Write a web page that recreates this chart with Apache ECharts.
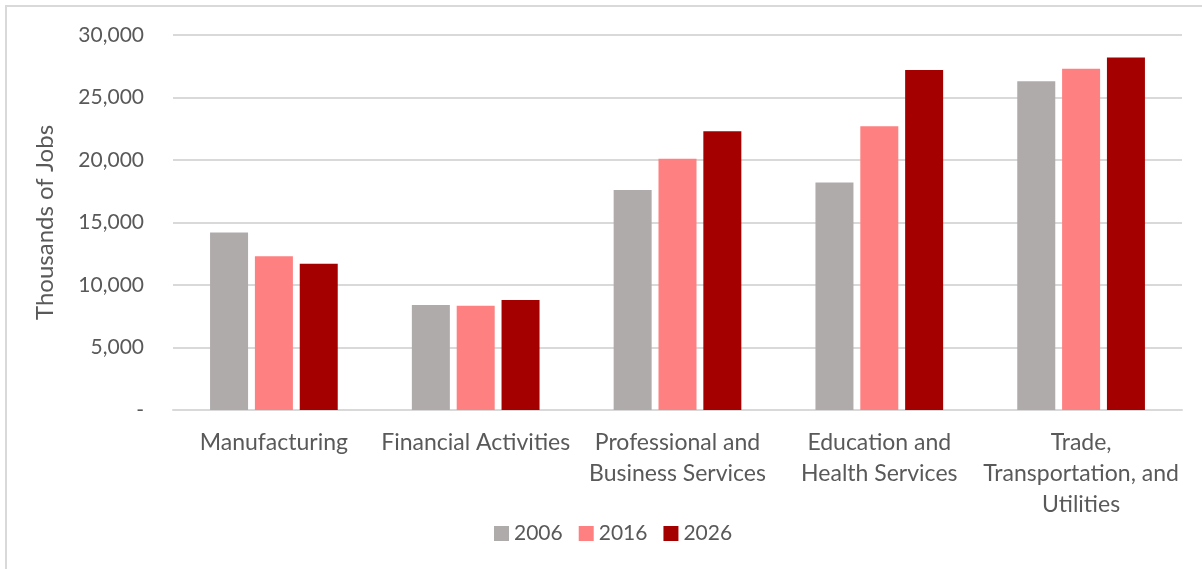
<!DOCTYPE html>
<html>
<head>
<meta charset="utf-8">
<script src="https://cdn.jsdelivr.net/npm/echarts@6/dist/echarts.min.js"></script>
<style>
  html, body { margin: 0; padding: 0; background: #fff; }
  #frame { position: absolute; left: 5px; top: 5px; width: 1197px; height: 564px;
           border-left: 2px solid #d9d9d9; border-top: 2px solid #d9d9d9; box-sizing: border-box; }
  #chart { position: absolute; left: 0; top: 0; width: 1202px; height: 569px; }
</style>
</head>
<body>
<div id="frame"></div>
<div id="chart"></div>
<script>
// categories and values (thousands of jobs)
const categories = [
  'Manufacturing',
  'Financial Activities',
  'Professional and\nBusiness Services',
  'Education and\nHealth Services',
  'Trade,\nTransportation, and\nUtilities'
]
const years = ['2006', '2016', '2026']
const jobs2006 = [14200, 8400, 17600, 18200, 26300]
const jobs2016 = [12300, 8350, 20100, 22700, 27300]
const jobs2026 = [11700, 8800, 22300, 27200, 28200]
const colors = ['#AFABAB', '#FF8080', '#A50000']

const chart = echarts.init(document.getElementById('chart'))
const font = 'Lato, "Open Sans", sans-serif'

chart.setOption({
  animation: false,
  color: colors,
  textStyle: { fontFamily: font },
  grid: { left: 173, right: 20, top: 35, bottom: 159, containLabel: false },
  legend: {
    bottom: 20,
    left: 489,
    itemWidth: 15,
    itemHeight: 15,
    itemGap: 16,
    icon: 'rect',
    textStyle: { color: '#595959', fontSize: 21, fontFamily: font },
    data: years
  },
  xAxis: {
    type: 'category',
    data: categories,
    axisLine: { lineStyle: { color: '#d9d9d9', width: 2 } },
    axisTick: { show: false },
    axisLabel: {
      color: '#595959',
      fontSize: 23,
      lineHeight: 31,
      margin: 17,
      interval: 0,
      fontFamily: font
    }
  },
  yAxis: {
    type: 'value',
    min: 0,
    max: 30000,
    interval: 5000,
    name: 'Thousands of Jobs',
    nameLocation: 'middle',
    nameGap: 116,
    nameRotate: 90,
    nameTextStyle: { color: '#595959', fontSize: 24, fontFamily: font },
    axisLine: { show: false },
    axisTick: { show: false },
    splitLine: { lineStyle: { color: '#d9d9d9', width: 2 } },
    axisLabel: {
      color: '#595959',
      fontSize: 21,
      margin: 29,
      fontFamily: font,
      formatter: v => v === 0 ? '-' : v.toLocaleString('en-US')
    }
  },
  series: [
    { name: years[0], type: 'bar', data: jobs2006, barWidth: 38, barGap: '18%' },
    { name: years[1], type: 'bar', data: jobs2016, barWidth: 38, barGap: '18%' },
    { name: years[2], type: 'bar', data: jobs2026, barWidth: 38, barGap: '18%' }
  ]
})
</script>
</body>
</html>
